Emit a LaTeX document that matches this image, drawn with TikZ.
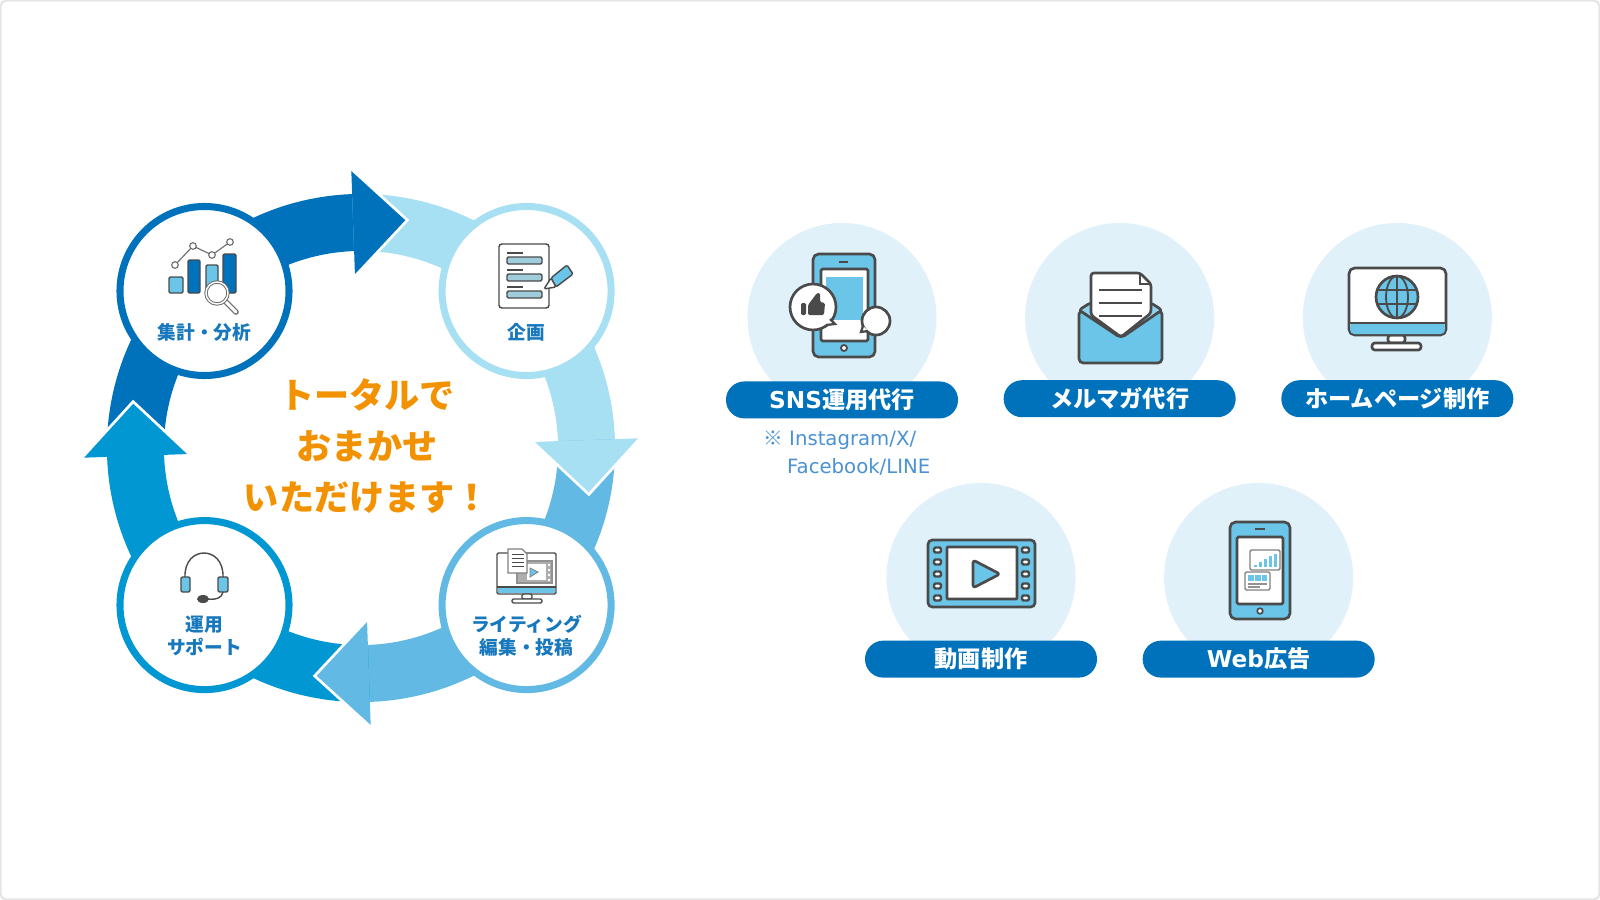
\documentclass[tikz,border=0pt]{standalone}
\usepackage{fontspec}
\setmainfont{Noto Sans CJK JP}
\newfontfamily\latinfont{DejaVu Sans}
\usepackage{tikz}
\definecolor{ringdark}{HTML}{0072BC}
\definecolor{ringpale}{HTML}{A8E0F3}
\definecolor{ringmid}{HTML}{62BAE4}
\definecolor{ringblue}{HTML}{0097D3}
\definecolor{pale}{HTML}{E0F1FA}
\definecolor{icongray}{HTML}{4A4A4A}
\definecolor{iconblue}{HTML}{6BC5E8}
\definecolor{labelblue}{HTML}{1878BE}
\definecolor{noteblue}{HTML}{4A92D2}
\definecolor{headline}{HTML}{F39200}
\tikzstyle{stepcircle} = [circle, minimum size=4.225cm, inner sep=0pt, line width=5pt, fill=white]
\tikzstyle{steplabel} = [align=center, text=labelblue, font=\bfseries\fontsize{13.3pt}{16.4pt}\selectfont, inner sep=0pt]
\tikzstyle{svccircle} = [circle, minimum size=4.725cm, inner sep=0pt, fill=pale]
\tikzstyle{svcpill} = [rectangle, rounded corners=0.46cm, minimum width=5.8cm, minimum height=0.925cm,
inner sep=0pt, fill=ringdark, text=white, font=\bfseries\fontsize{16.5pt}{20pt}\selectfont]
\tikzstyle{bigicon} = [draw=icongray, line width=1.9pt, line join=round, rounded corners=2pt]
\tikzstyle{smallicon} = [draw=icongray, line width=1pt, line join=round, rounded corners=1pt]
\newcommand{\ringband}[3]{\fill [#3] (#1:6.35cm) arc (#1:{#2-3}:6.35cm) -- ({#2-3}:4.925cm) arc ({#2-3}:#1:4.925cm) -- cycle;}
\newcommand{\ringhead}[2]{
    \draw [white, line width=4pt, line join=miter] (#1:6.925cm) -- ({#1-13}:5.8cm) -- (#1:4.35cm);
    \fill [#2] (#1:6.925cm) -- ({#1-13}:5.8cm) -- (#1:4.35cm) -- cycle;}
\begin{document}
\begin{tikzpicture}[x=0.025cm, y=-0.025cm, node distance=8.05cm]
    \useasboundingbox (0,0) rectangle (1600,900);
    \fill [white] (0,0) rectangle (1600,900);
    \draw [draw=black!10, line width=1.5pt, rounded corners=4pt] (0.5,0.5) rectangle (1599.5,899.5);
    % ring of arrows
    \begin{scope}[shift={(361,448)}]
        \ringband{182}{92}{ringdark}
        \ringband{92}{2}{ringpale}
        \ringband{2}{-88}{ringmid}
        \ringband{-88}{-178}{ringblue}
        \ringhead{92}{ringdark}
        \ringhead{2}{ringpale}
        \ringhead{-88}{ringmid}
        \ringhead{-178}{ringblue}
    \end{scope}
    % the four steps
    \node (analysis) [stepcircle, draw=ringdark] at (204.5,291) {};
    \node (plan) [stepcircle, draw=ringpale, right of=analysis] {};
    \node (writing) [stepcircle, draw=ringmid, below of=plan, yshift=0.2cm] {};
    \node (support) [stepcircle, draw=ringblue, left of=writing] {};
    \node (analysistxt) [steplabel, below of=analysis, node distance=1.03cm] {集計・分析};
    \node (plantxt) [steplabel, below of=plan, node distance=1.03cm] {企画};
    \node (writingtxt) [steplabel, below of=writing, node distance=0.76cm] {ライティング\\編集・投稿};
    \node (supporttxt) [steplabel, below of=support, node distance=0.76cm] {運用\\サポート};
    \node (headtxt) [align=center, text=headline, font=\bfseries\fontsize{25pt}{36.3pt}\selectfont] at (367,446) {トータルで\\おまかせ\\いただけます！};
    % icon: chart
    \draw [smallicon, fill=iconblue] (169,277) rectangle (183,293);
    \draw [smallicon, fill=ringdark] (188,260) rectangle (200,293);
    \draw [smallicon, fill=iconblue] (206,265) rectangle (218,293);
    \draw [smallicon, fill=ringdark] (223,254) rectangle (236,293);
    \draw [icongray!80, line width=0.8pt] (175,265) -- (193,246) -- (212,255) -- (230,242);
    \foreach \px/\py in {175/265, 193/246, 212/255, 230/242}
        \draw [draw=icongray!80, fill=white, line width=0.8pt] (\px,\py) circle (3.3);
    \draw [icongray!80, line width=4pt, line cap=round] (226,302) -- (236,312);
    \draw [white, line width=2.2pt, line cap=round] (226,302) -- (236,312);
    \draw [draw=icongray!80, fill=white, line width=2.4pt] (217,293) circle (11);
    \draw [draw=white, line width=1pt] (217,293) circle (11);
    % icon: document and pen
    \draw [smallicon, fill=white, rounded corners=2pt] (499,244) rectangle (549,308);
    \foreach \ly in {253,270,287} {
        \draw [icongray, line width=0.9pt] (507,\ly) -- (523,\ly);
        \draw [smallicon, fill=ringpale!80!gray] (507,\ly+4) rectangle (542,\ly+11);
    }
    \draw [smallicon, fill=iconblue] (551,278) -- (567,265) -- (573,274) -- (556,287) -- cycle;
    \draw [smallicon, fill=white] (551,278) -- (556,287) -- (544,289) -- cycle;
    % icon: monitor with video and page
    \draw [smallicon, fill=white] (497,553) rectangle (556,594);
    \draw [fill=iconblue, draw=none] (498,587) rectangle (555,593);
    \draw [icongray, line width=1pt] (497,587) -- (556,587);
    \draw [draw=icongray!60, fill=icongray!45, line width=1pt] (517,561) rectangle (552,583);
    \draw [smallicon, fill=white] (522,594) rectangle (532,599);
    \draw [smallicon, fill=white] (512,599) rectangle (542,603);
    \fill [white] (527,564) rectangle (546,580);
    \foreach \ly in {565,570,575,580}
        \fill [white] (548,\ly-1) rectangle (550,\ly+1);
    \draw [draw=icongray!70, fill=iconblue, line width=0.6pt] (530,568) -- (538,572) -- (530,577) -- cycle;
    \draw [draw=icongray!70, fill=white, line width=0.8pt] (508,549) -- (522,549) -- (527,554) -- (527,573) -- (508,573) -- cycle;
    \foreach \ly in {554,558,562,566}
        \draw [icongray, line width=0.7pt] (512,\ly) -- (524,\ly);
    % icon: headset
    \draw [icongray, line width=1pt] (185,577) .. controls (184,545) and (224,545) .. (223,577);
    \draw [smallicon, fill=iconblue] (181,577) rectangle (190,592);
    \draw [smallicon, fill=iconblue] (218,577) rectangle (228,592);
    \draw [icongray, line width=1pt] (223,592) .. controls (222,598) and (216,600) .. (207,599);
    \fill [icongray] (203,599) ellipse (6 and 4);
    % service circles and pills
    \node (sns) [svccircle] at (842,317.5) {};
    \node (mail) [svccircle, right of=sns, node distance=6.94cm] {};
    \node (web) [svccircle, right of=mail, node distance=6.94cm] {};
    \node (video) [svccircle] at (981,577.5) {};
    \node (ads) [svccircle, right of=video, node distance=6.94cm] {};
    \node (snspill) [svcpill, below of=sns, node distance=2.06cm] {{\latinfont\bfseries SNS}運用代行};
    \node (mailpill) [svcpill, below of=mail, node distance=2.03cm] {メルマガ代行};
    \node (webpill) [svcpill, below of=web, node distance=2.03cm] {ホームページ制作};
    \node (videopill) [svcpill, below of=video, node distance=2.04cm] {動画制作};
    \node (adspill) [svcpill, below of=ads, node distance=2.04cm] {{\latinfont\bfseries Web}広告};
    \node (snsnote) [anchor=north west, inner sep=0pt, text=noteblue, align=left, font=\latinfont\fontsize{14pt}{19.5pt}\selectfont] at (763,431)
        {{\rmfamily ※}~Instagram/X/\\\hspace{17pt}Facebook/LINE};
    % icon: phone
    \draw [bigicon, fill=iconblue, rounded corners=4pt] (813,254) rectangle (875,357);
    \draw [bigicon, fill=white, rounded corners=1pt] (821,269) rectangle (868,341);
    \fill [iconblue] (826,277) rectangle (863,320);
    \draw [icongray, line width=1.6pt] (839,262) -- (848,262);
    \draw [draw=icongray, fill=white, line width=1.3pt] (844,348) circle (3);
    \draw [bigicon, fill=white] (813,307) circle (23);
    \draw [bigicon, fill=white] (876,321) circle (14);
    \fill [white] (830,318) -- (836,325) -- (824,324) -- cycle;
    \draw [icongray, line width=1.6pt] (830,319) -- (835,324) -- (826,325);
    \fill [white] (863,326) -- (861,332) -- (868,331) -- cycle;
    \draw [icongray, line width=1.6pt] (863,326) -- (861,332) -- (868,331);
    \fill [icongray, rounded corners=1pt] (801,303) rectangle (806,315);
    \fill [icongray, rounded corners=1pt] (808,305) -- (817,293) -- (820,293) -- (820,302) -- (825,303) -- (824,315) -- (808,315) -- cycle;
    % icon: mail
    \draw [bigicon, fill=iconblue!70!pale] (1079,310) -- (1090,303) -- (1151,303) -- (1162,310) -- (1121,340) -- cycle;
    \draw [bigicon, fill=white] (1091,315) -- (1091,273) -- (1140,273) -- (1151,284) -- (1151,313) -- (1121,337) -- cycle;
    \draw [icongray, line width=1.2pt] (1140,273) -- (1140,284) -- (1151,284);
    \foreach \ly in {290,303,316}
        \draw [icongray, line width=2.1pt] (1099,\ly) -- (1142,\ly);
    \draw [bigicon, fill=iconblue, rounded corners=3pt] (1079,310) -- (1121,338) -- (1162,310) -- (1162,363) -- (1079,363) -- cycle;
    % icon: monitor with globe
    \draw [bigicon, fill=white] (1388,335) rectangle (1405,343);
    \draw [bigicon, fill=white] (1372,343) rectangle (1421,350);
    \draw [bigicon, fill=white, rounded corners=4pt] (1349,268) rectangle (1446,335);
    \fill [iconblue, rounded corners=3pt] (1350,323) rectangle (1445,334);
    \draw [icongray, line width=1.9pt] (1349,323) -- (1446,323);
    \draw [bigicon, fill=iconblue] (1397,297) circle (21);
    \draw [icongray, line width=1.3pt] (1376,290) -- (1418,290) (1376,304) -- (1418,304) (1397,276) -- (1397,318);
    \draw [icongray, line width=1.3pt] (1397,297) ellipse (11 and 21);
    % icon: film
    \draw [bigicon, fill=iconblue, rounded corners=3pt] (928,540) rectangle (1035,607);
    \draw [bigicon, fill=white, rounded corners=0.5pt] (947,547) rectangle (1017,599);
    \foreach \ly in {550,562,574,586,598} {
        \draw [draw=icongray, fill=white, line width=1.7pt, rounded corners=1pt] (934,\ly-2.5) rectangle (941,\ly+2.5);
        \draw [draw=icongray, fill=white, line width=1.7pt, rounded corners=1pt] (1022,\ly-2.5) rectangle (1029,\ly+2.5);
    }
    \draw [bigicon, fill=iconblue] (973,560) -- (1000,574) -- (973,588) -- cycle;
    % icon: tablet with charts
    \draw [bigicon, fill=iconblue, rounded corners=4pt] (1230,522) rectangle (1290,619);
    \draw [bigicon, fill=white, rounded corners=1pt] (1237,537) rectangle (1283,604);
    \draw [icongray, line width=1.6pt] (1255,529) -- (1265,529);
    \draw [draw=icongray, fill=white, line width=1.2pt] (1260,611) circle (2.8);
    \draw [smallicon, draw=icongray!70, fill=white] (1250,550) rectangle (1280,570);
    \foreach \bx/\by in {1255/565, 1260/562, 1265/559, 1270/556, 1275/554}
        \fill [iconblue] (\bx-1,\by) rectangle (\bx+1.5,567);
    \draw [smallicon, draw=icongray!70, fill=white] (1245,572) rectangle (1270,590);
    \fill [iconblue] (1248,575) rectangle (1267,581);
    \draw [white, line width=0.7pt] (1254,575) -- (1254,581) (1261,575) -- (1261,581);
    \draw [icongray!60, line width=0.8pt] (1248,584) -- (1267,584) (1248,587) -- (1260,587);
\end{tikzpicture}
\end{document}
